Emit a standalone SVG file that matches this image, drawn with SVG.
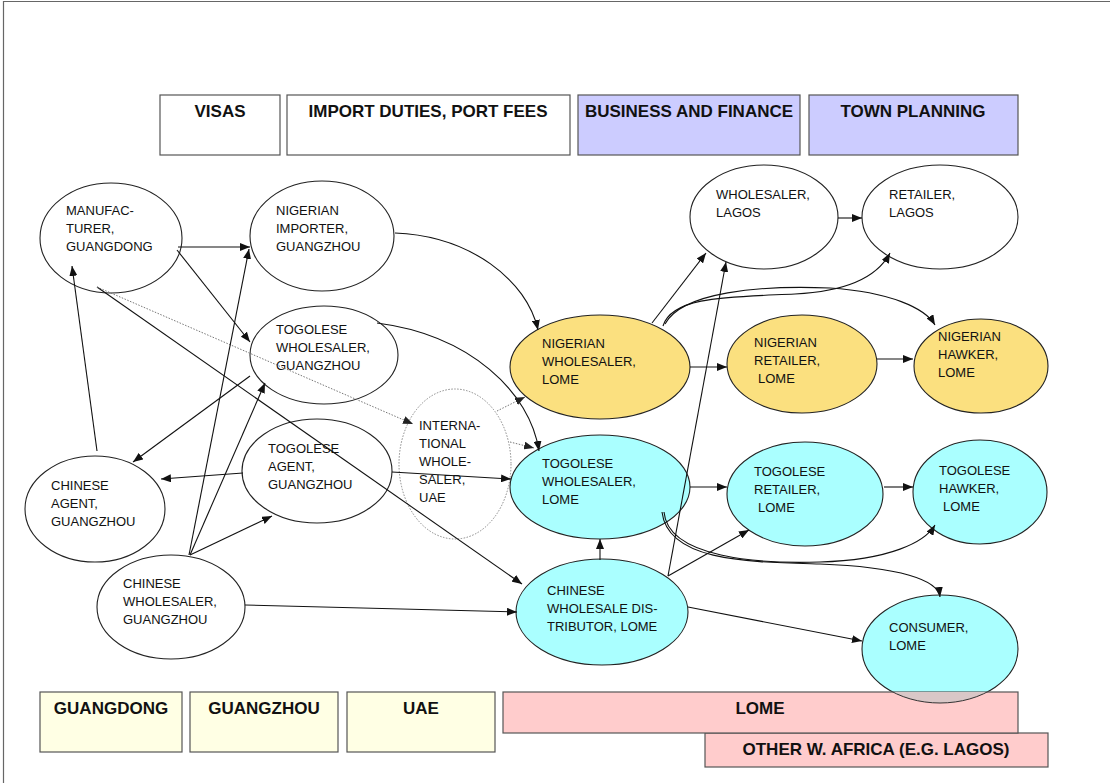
<svg xmlns="http://www.w3.org/2000/svg" width="1110" height="783" viewBox="0 0 1110 783">
<style>
.n{stroke:#222;stroke-width:1.1}
.w{fill:#fff}
.y{fill:#fbe07f}
.c{fill:#aaffff}
.t{font-family:"Liberation Sans",Arial,sans-serif;font-size:13px;fill:#111}
.b{font-family:"Liberation Sans",Arial,sans-serif;font-size:17px;font-weight:bold;fill:#111;text-anchor:middle}
.bx{stroke:#555;stroke-width:1.2}
.e{fill:none;stroke:#111;stroke-width:1.1;marker-end:url(#ah)}
.d{fill:none;stroke:#777;stroke-width:1;stroke-dasharray:1.5 1.5;marker-end:url(#ahd)}
</style>
<defs>
<marker id="ah" markerUnits="userSpaceOnUse" markerWidth="11" markerHeight="8" refX="10" refY="4" orient="auto"><path d="M0,0 L10,4 L0,8 z" fill="#111"/></marker>
<marker id="ahd" markerUnits="userSpaceOnUse" markerWidth="11" markerHeight="8" refX="10" refY="4" orient="auto"><path d="M0,0 L10,4 L0,8 z" fill="#222"/></marker>
<clipPath id="lomeclip"><rect x="503" y="692" width="515" height="41"/></clipPath>
</defs>
<rect width="1110" height="783" fill="#fff"/>
<path d="M3.5,783 V1.5 H1110" fill="none" stroke="#666" stroke-width="1.2"/>

<g id="top-boxes">
<g id="box-visas"><rect class="bx" x="160" y="95" width="120" height="60" fill="#fff"/><text class="b" x="220" y="117">VISAS</text></g>
<g id="box-import"><rect class="bx" x="287" y="95" width="283" height="60" fill="#fff"/><text class="b" x="428" y="117">IMPORT DUTIES, PORT FEES</text></g>
<g id="box-business"><rect class="bx" x="578" y="95" width="222" height="60" fill="#ccccff"/><text class="b" x="689" y="117">BUSINESS AND FINANCE</text></g>
<g id="box-town"><rect class="bx" x="809" y="95" width="209" height="60" fill="#ccccff"/><text class="b" x="913" y="117">TOWN PLANNING</text></g>
</g>

<g id="bottom-boxes">
<g id="box-guangdong"><rect class="bx" x="40" y="692" width="142" height="60" fill="#ffffe4"/><text class="b" x="111" y="714">GUANGDONG</text></g>
<g id="box-guangzhou"><rect class="bx" x="190" y="692" width="148" height="60" fill="#ffffe4"/><text class="b" x="264" y="714">GUANGZHOU</text></g>
<g id="box-uae"><rect class="bx" x="347" y="692" width="148" height="60" fill="#ffffe4"/><text class="b" x="421" y="714">UAE</text></g>
<g id="box-other"><rect class="bx" x="705" y="733" width="343" height="34" fill="#ffcccc"/><text class="b" x="876" y="755">OTHER W. AFRICA (E.G. LAGOS)</text></g>
</g>

<g id="n-manufacturer"><ellipse class="n w" cx="111" cy="238" rx="71" ry="55"/><text class="t"><tspan x="66" y="215">MANUFAC-</tspan><tspan x="66" y="233">TURER,</tspan><tspan x="66" y="251">GUANGDONG</tspan></text></g>
<g id="n-nigerian-importer"><ellipse class="n w" cx="322" cy="236" rx="72" ry="55"/><text class="t"><tspan x="276" y="215">NIGERIAN</tspan><tspan x="276" y="233">IMPORTER,</tspan><tspan x="276" y="251">GUANGZHOU</tspan></text></g>
<g id="n-togolese-wholesaler-gz"><ellipse class="n w" cx="324" cy="355" rx="74" ry="49"/><text class="t"><tspan x="276" y="334">TOGOLESE</tspan><tspan x="276" y="352">WHOLESALER,</tspan><tspan x="276" y="370">GUANGZHOU</tspan></text></g>
<g id="n-togolese-agent-gz"><ellipse class="n w" cx="317" cy="471" rx="75" ry="52"/><text class="t"><tspan x="268" y="453">TOGOLESE</tspan><tspan x="268" y="471">AGENT,</tspan><tspan x="268" y="489">GUANGZHOU</tspan></text></g>
<g id="n-international-uae"><ellipse cx="455" cy="464" rx="56" ry="75" fill="none" stroke="#888" stroke-width="1" stroke-dasharray="1.5 1.5"/><text class="t"><tspan x="419" y="430">INTERNA-</tspan><tspan x="419" y="448">TIONAL</tspan><tspan x="419" y="466">WHOLE-</tspan><tspan x="419" y="484">SALER,</tspan><tspan x="419" y="502">UAE</tspan></text></g>
<g id="n-chinese-agent-gz"><ellipse class="n w" cx="95" cy="509" rx="70" ry="53"/><text class="t"><tspan x="51" y="490">CHINESE</tspan><tspan x="51" y="508">AGENT,</tspan><tspan x="51" y="526">GUANGZHOU</tspan></text></g>
<g id="n-chinese-wholesaler-gz"><ellipse class="n w" cx="171" cy="607" rx="74" ry="52"/><text class="t"><tspan x="123" y="588">CHINESE</tspan><tspan x="123" y="606">WHOLESALER,</tspan><tspan x="123" y="624">GUANGZHOU</tspan></text></g>
<g id="n-wholesaler-lagos"><ellipse class="n w" cx="764" cy="217" rx="74" ry="52"/><text class="t"><tspan x="716" y="199">WHOLESALER,</tspan><tspan x="716" y="217">LAGOS</tspan></text></g>
<g id="n-retailer-lagos"><ellipse class="n w" cx="940" cy="217" rx="78" ry="52"/><text class="t"><tspan x="889" y="199">RETAILER,</tspan><tspan x="889" y="217">LAGOS</tspan></text></g>
<g id="n-nigerian-wholesaler-lome"><ellipse class="n y" cx="600" cy="367" rx="90" ry="52"/><text class="t"><tspan x="542" y="348">NIGERIAN</tspan><tspan x="542" y="366">WHOLESALER,</tspan><tspan x="542" y="384">LOME</tspan></text></g>
<g id="n-nigerian-retailer-lome"><ellipse class="n y" cx="802" cy="364" rx="75" ry="49"/><text class="t"><tspan x="754" y="347">NIGERIAN</tspan><tspan x="754" y="365">RETAILER,</tspan><tspan x="758" y="383">LOME</tspan></text></g>
<g id="n-nigerian-hawker-lome"><ellipse class="n y" cx="981" cy="366" rx="67" ry="47"/><text class="t"><tspan x="938" y="341">NIGERIAN</tspan><tspan x="938" y="359">HAWKER,</tspan><tspan x="938" y="377">LOME</tspan></text></g>
<g id="n-togolese-wholesaler-lome"><ellipse class="n c" cx="600" cy="487" rx="90" ry="52"/><text class="t"><tspan x="542" y="468">TOGOLESE</tspan><tspan x="542" y="486">WHOLESALER,</tspan><tspan x="542" y="504">LOME</tspan></text></g>
<g id="n-togolese-retailer-lome"><ellipse class="n c" cx="805" cy="494" rx="78" ry="52"/><text class="t"><tspan x="754" y="476">TOGOLESE</tspan><tspan x="754" y="494">RETAILER,</tspan><tspan x="758" y="512">LOME</tspan></text></g>
<g id="n-togolese-hawker-lome"><ellipse class="n c" cx="980" cy="492" rx="67" ry="52"/><text class="t"><tspan x="939" y="475">TOGOLESE</tspan><tspan x="939" y="493">HAWKER,</tspan><tspan x="943" y="511">LOME</tspan></text></g>
<g id="n-chinese-distributor-lome"><ellipse class="n c" cx="602" cy="612" rx="86" ry="53"/><text class="t"><tspan x="547" y="595">CHINESE</tspan><tspan x="547" y="613">WHOLESALE DIS-</tspan><tspan x="547" y="631">TRIBUTOR, LOME</tspan></text></g>
<g id="n-consumer-lome"><ellipse class="n c" cx="940" cy="649" rx="78" ry="54"/><text class="t"><tspan x="889" y="632">CONSUMER,</tspan><tspan x="889" y="650">LOME</tspan></text></g>

<g id="box-lome"><rect class="bx" x="503" y="692" width="515" height="41" fill="#ffcccc"/><ellipse cx="940" cy="649" rx="78" ry="54" fill="#d9c7c7" stroke="#333" stroke-width="1" clip-path="url(#lomeclip)"/><text class="b" x="760" y="714">LOME</text></g>

<g id="connectors">
<line class="e" x1="178" y1="247" x2="250" y2="247"/>
<line class="e" x1="177" y1="250" x2="250" y2="342"/>
<line class="e" x1="97" y1="287" x2="522" y2="584"/>
<line class="d" x1="97" y1="287" x2="413" y2="424"/>
<line class="e" x1="97" y1="451" x2="72" y2="266"/>
<line class="e" x1="250" y1="376" x2="133" y2="462"/>
<line class="e" x1="243" y1="473" x2="161" y2="479"/>
<line class="e" x1="189" y1="555" x2="249" y2="249"/>
<line class="e" x1="190" y1="555" x2="265" y2="383"/>
<line class="e" x1="190" y1="555" x2="272" y2="516"/>
<line class="e" x1="245" y1="605" x2="517" y2="612"/>
<line class="e" x1="392" y1="472" x2="511" y2="479"/>
<path class="e" d="M395,233 C470,236 527,280 538,330"/>
<path class="e" d="M377,323 C470,335 530,392 539,451"/>
<line class="d" x1="497" y1="411" x2="525" y2="397"/>
<line class="d" x1="510" y1="442" x2="534" y2="448"/>
<line class="e" x1="652" y1="323" x2="706" y2="253"/>
<path class="e" d="M663,326 C672,296 730,297 795,294 C855,291 880,272 890,253"/>
<path class="e" d="M665,324 C682,292 760,285 830,288 C890,292 925,308 935,325"/>
<line class="e" x1="690" y1="367" x2="727" y2="367"/>
<line class="e" x1="877" y1="359" x2="913" y2="359"/>
<line class="e" x1="838" y1="218" x2="862" y2="218"/>
<line class="e" x1="690" y1="487" x2="727" y2="487"/>
<line class="e" x1="884" y1="487" x2="913" y2="487"/>
<line class="e" x1="600" y1="560" x2="600" y2="539"/>
<line class="e" x1="668" y1="576" x2="726" y2="262"/>
<line class="e" x1="668" y1="576" x2="749" y2="530"/>
<line class="e" x1="688" y1="607" x2="862" y2="641"/>
<path class="e" d="M664,512 C668,558 760,564 820,562 C890,560 925,542 935,525"/>
<path class="e" d="M662,512 C668,562 750,562 820,564 C900,567 938,580 940,597"/>
</g>
</svg>
